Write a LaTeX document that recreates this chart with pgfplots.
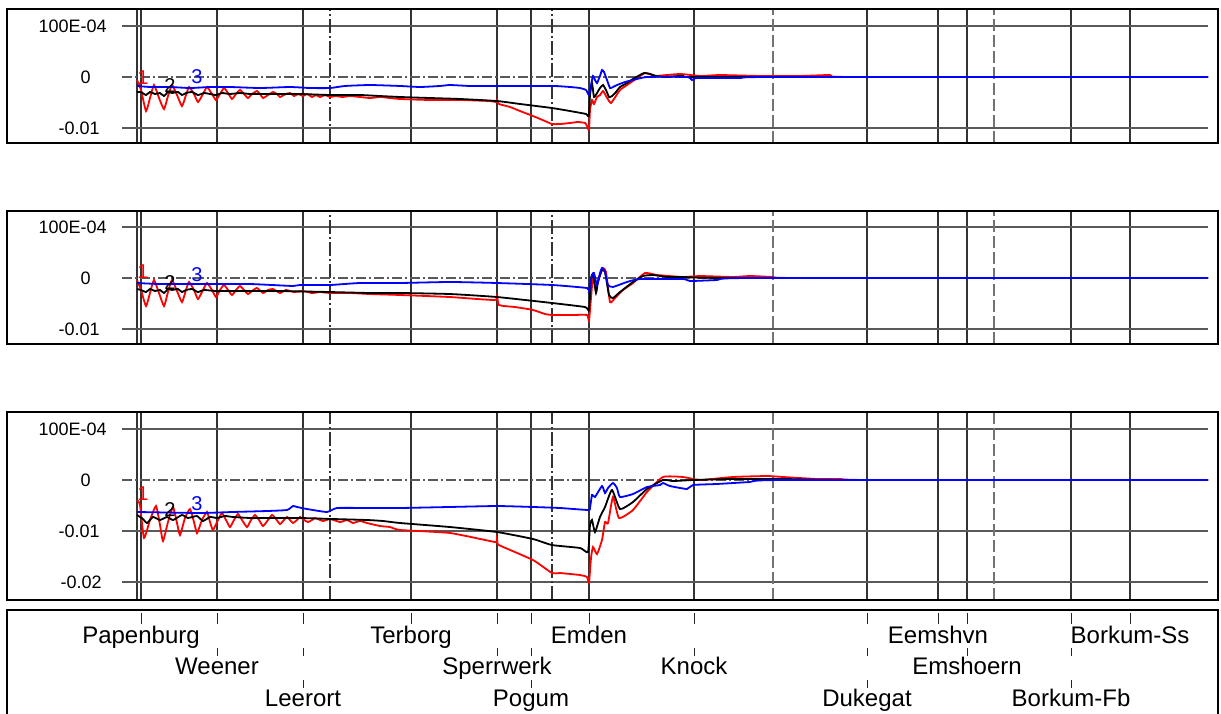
\documentclass[border=0pt]{standalone}
\usepackage{fontspec}
\setmainfont{Liberation Sans}
\usepackage{pgfplots}
\pgfplotsset{compat=1.18}
\pgfplotsset{
  panel/.style={
    scale only axis, width=543pt,
    xmin=122, xmax=1208,
    axis line style={draw=none},
    tick style={draw=none},
    scaled y ticks=false,
    xtick={137,141,217,303,411,497,531,589,694,867,938,967,1071,1130},
    xticklabels={},
    extra x ticks={330,552},
    extra x tick labels={},
    extra x tick style={major grid style={black, line width=0.55pt, dash pattern=on 7pt off 1.5pt on 1pt off 1.5pt}},
    extra y ticks={0},
    extra y tick labels={0\kern8pt},
    extra y tick style={major grid style={black!65, line width=0.55pt, dash pattern=on 5pt off 1.5pt on 1pt off 1.5pt}},
    xmajorgrids, ymajorgrids,
    x grid style={black!80, line width=0.55pt},
    y grid style={black!65, line width=0.55pt},
    yticklabel style={anchor=east, inner sep=0pt, xshift=-7.5pt, font=\fontsize{9}{10}\selectfont},
    every axis plot/.append style={line width=0.9pt, smooth, tension=0.3},
  },
}
\tikzset{numlab/.style={inner sep=0pt, font=\fontsize{10}{11}\selectfont}}
\newcommand{\dashedv}{%
  \draw[black!55, line width=0.6pt, dash pattern=on 6pt off 2pt] ({axis cs:773,0}|-{rel axis cs:0,0}) -- ({axis cs:773,0}|-{rel axis cs:0,1});
  \draw[black!55, line width=0.6pt, dash pattern=on 6pt off 2pt] ({axis cs:994,0}|-{rel axis cs:0,0}) -- ({axis cs:994,0}|-{rel axis cs:0,1});
}
\begin{document}
\begin{tikzpicture}
\path[use as bounding box] (0,0) rectangle (610.5pt,-356.5pt);

% ---------- top panel ----------
\begin{axis}[panel, at={(61pt,-71.5pt)}, anchor=south west, height=67pt,
  ymin=-0.0129412, ymax=0.0133333,
  ytick={-0.01,0.01}, yticklabels={{-0.01\kern3.5pt},{\raisebox{-1.3pt}{100E-04}}}]
\dashedv
\addplot[red] coordinates {
(137,-0.59e-3) (141,-2.55e-3) (146,-6.67e-3) (150,-4.12e-3) (154,-1.57e-3) (159,-4.12e-3)
(164,-6.27e-3) (168,-3.73e-3) (172,-1.57e-3) (177,-3.53e-3) (182,-5.69e-3) (186,-3.53e-3)
(189,-1.96e-3) (194,-3.33e-3) (198,-4.90e-3) (203,-3.33e-3) (207,-1.96e-3) (212,-3.33e-3)
(216,-4.51e-3) (220,-3.33e-3) (224,-2.16e-3) (228,-3.14e-3) (232,-4.31e-3) (236,-3.33e-3)
(240,-2.55e-3) (244,-3.33e-3) (248,-4.12e-3) (252,-3.33e-3) (257,-2.75e-3) (260,-3.33e-3)
(263,-4.12e-3) (268,-3.53e-3) (273,-2.94e-3) (277,-3.33e-3) (280,-3.92e-3) (286,-3.33e-3)
(290,-3.14e-3) (294,-3.73e-3) (298,-3.33e-3) (303,-3.73e-3) (307,-3.33e-3) (312,-3.92e-3)
(316,-3.53e-3) (320,-3.92e-3) (325,-3.53e-3) (330,-3.92e-3) (336,-3.73e-3) (342,-3.92e-3)
(350,-3.73e-3) (360,-3.92e-3) (370,-4.12e-3) (380,-3.92e-3) (390,-4.12e-3) (400,-4.31e-3)
(430,-4.51e-3) (460,-4.51e-3) (490,-4.71e-3) (496,-4.90e-3) (497,-4.51e-3) (499,-5.29e-3)
(510,-5.88e-3) (520,-6.67e-3) (533,-7.65e-3) (545,-8.63e-3) (552,-9.22e-3) (560,-9.22e-3)
(570,-9.02e-3) (578,-8.82e-3) (585,-9.02e-3) (587,-9.61e-3) (589,-10.39e-3) (590,-6.47e-3)
(592,-4.51e-3) (594,-5.29e-3) (597,-3.92e-3) (600,-3.53e-3) (603,-2.75e-3) (606,-3.73e-3)
(609,-4.71e-3) (611,-5.10e-3) (614,-4.31e-3) (620,-2.55e-3) (627,-1.57e-3) (633,-0.78e-3)
(640,0.20e-3) (645,0.78e-3) (650,0.59e-3) (655,0.20e-3) (680,0.59e-3) (700,0.20e-3)
(720,0.39e-3) (760,0.20e-3) (800,0.20e-3) (830,0.39e-3) (850,0) (1208,0)
};
\addplot[black] coordinates {
(137,-2.94e-3) (141,-2.94e-3) (146,-3.53e-3) (150,-2.94e-3) (155,-3.33e-3) (160,-3.14e-3)
(164,-3.73e-3) (168,-2.94e-3) (172,-3.14e-3) (178,-2.94e-3) (182,-3.53e-3) (186,-3.14e-3)
(192,-2.94e-3) (198,-3.53e-3) (204,-3.14e-3) (210,-3.33e-3) (216,-3.53e-3) (222,-3.14e-3)
(230,-3.33e-3) (240,-3.14e-3) (250,-3.33e-3) (260,-3.33e-3) (280,-3.33e-3) (300,-3.33e-3)
(330,-3.53e-3) (360,-3.53e-3) (380,-3.73e-3) (400,-3.92e-3) (430,-4.12e-3) (460,-4.31e-3)
(497,-4.71e-3) (520,-5.29e-3) (552,-6.08e-3) (570,-6.67e-3) (586,-7.25e-3) (588,-7.65e-3)
(589,-7.45e-3) (590,-3.53e-3) (592,-1.18e-3) (594,-3.92e-3) (597,-3.14e-3) (600,-2.16e-3)
(603,-1.57e-3) (606,-2.55e-3) (609,-3.92e-3) (612,-3.73e-3) (616,-2.94e-3) (620,-1.96e-3)
(627,-1.18e-3) (633,-0.39e-3) (640,0.39e-3) (644,0.78e-3) (650,0.59e-3) (656,0.20e-3)
(665,0) (680,0.20e-3) (700,0) (1208,0)
};
\addplot[blue] coordinates {
(137,-1.76e-3) (150,-1.96e-3) (170,-1.96e-3) (190,-2.16e-3) (210,-1.96e-3) (230,-1.96e-3)
(260,-2.16e-3) (290,-1.96e-3) (310,-2.16e-3) (330,-2.16e-3) (345,-1.76e-3) (370,-1.57e-3)
(400,-1.76e-3) (420,-1.96e-3) (440,-1.76e-3) (450,-1.57e-3) (470,-1.76e-3) (500,-1.76e-3)
(520,-1.76e-3) (540,-1.76e-3) (555,-1.76e-3) (570,-1.96e-3) (580,-2.16e-3) (586,-2.55e-3)
(589,-3.53e-3) (591,-1.57e-3) (593,0.20e-3) (595,-0.59e-3) (597,-1.18e-3) (600,0.20e-3)
(602,1.37e-3) (604,0.98e-3) (607,-0.59e-3) (610,-2.16e-3) (613,-1.96e-3) (617,-1.57e-3)
(625,-0.98e-3) (633,-0.59e-3) (647,0) (687,0) (692,-0.59e-3) (697,-0.20e-3) (740,-0.20e-3)
(770,0) (1208,0)
};
\node[numlab, text=red] at (axis cs:143,-0.1e-3) {1};
\node[numlab, text=black] at (axis cs:170,-1.76e-3) {2};
\node[numlab, text=blue] at (axis cs:197,0) {3};
\end{axis}

% ---------- middle panel ----------
\begin{axis}[panel, at={(61pt,-172pt)}, anchor=south west, height=66.5pt,
  ymin=-0.0129412, ymax=0.0131373,
  ytick={-0.01,0.01}, yticklabels={{-0.01\kern3.5pt},{\raisebox{-1.3pt}{100E-04}}}]
\dashedv
\addplot[red] coordinates {
(137,-0.39e-3) (141,-2.35e-3) (146,-5.49e-3) (150,-2.94e-3) (154,-0.39e-3) (159,-2.94e-3)
(164,-5.49e-3) (168,-2.75e-3) (172,-0.39e-3) (177,-2.55e-3) (182,-4.71e-3) (186,-2.35e-3)
(189,-0.78e-3) (194,-2.35e-3) (198,-4.12e-3) (203,-2.35e-3) (207,-0.98e-3) (212,-2.35e-3)
(216,-3.73e-3) (220,-2.35e-3) (224,-1.37e-3) (228,-2.35e-3) (232,-3.33e-3) (236,-2.35e-3)
(240,-1.57e-3) (244,-2.35e-3) (248,-3.14e-3) (252,-2.55e-3) (257,-1.96e-3) (263,-2.94e-3)
(268,-2.35e-3) (273,-2.16e-3) (280,-2.94e-3) (286,-2.35e-3) (294,-2.75e-3) (303,-2.55e-3)
(312,-2.94e-3) (320,-2.75e-3) (330,-2.94e-3) (350,-2.94e-3) (370,-3.14e-3) (400,-3.33e-3)
(450,-3.73e-3) (495,-4.31e-3) (497,-3.14e-3) (499,-5.29e-3) (515,-5.69e-3) (533,-6.27e-3)
(545,-7.06e-3) (552,-7.25e-3) (573,-7.25e-3) (587,-7.25e-3) (589,-8.43e-3) (591,-3.92e-3)
(593,0.20e-3) (596,-1.96e-3) (599,0.20e-3) (603,1.96e-3) (606,1.18e-3) (610,-4.71e-3)
(615,-3.92e-3) (623,-2.35e-3) (633,-0.98e-3) (645,0.98e-3) (657,0.59e-3) (683,0.20e-3)
(700,0.39e-3) (733,0.20e-3) (750,0.39e-3) (773,0.20e-3) (800,0) (1208,0)
};
\addplot[black] coordinates {
(137,-2.16e-3) (141,-2.35e-3) (146,-2.75e-3) (150,-2.16e-3) (155,-2.55e-3) (160,-2.35e-3)
(164,-2.94e-3) (168,-2.16e-3) (172,-2.35e-3) (178,-2.16e-3) (182,-2.75e-3) (186,-2.35e-3)
(192,-2.16e-3) (198,-2.75e-3) (204,-2.35e-3) (216,-2.55e-3) (240,-2.55e-3) (280,-2.55e-3)
(330,-2.75e-3) (370,-2.94e-3) (400,-2.94e-3) (450,-3.14e-3) (497,-3.73e-3) (552,-4.90e-3)
(585,-5.69e-3) (589,-6.27e-3) (591,0) (593,0.59e-3) (596,-2.94e-3) (598,-0.78e-3)
(602,1.57e-3) (605,1.18e-3) (609,-3.33e-3) (613,-3.92e-3) (620,-2.75e-3) (633,-0.78e-3)
(643,0.39e-3) (653,0.59e-3) (667,0.20e-3) (683,0.20e-3) (733,0) (1208,0)
};
\addplot[blue] coordinates {
(137,-0.98e-3) (160,-1.18e-3) (200,-1.18e-3) (250,-1.18e-3) (293,-1.57e-3) (300,-1.37e-3)
(330,-1.37e-3) (360,-0.98e-3) (400,-0.98e-3) (450,-0.78e-3) (497,-0.98e-3) (552,-1.37e-3)
(587,-1.96e-3) (589,-2.55e-3) (592,0.59e-3) (594,0.98e-3) (597,-1.37e-3) (600,0.98e-3)
(602,1.96e-3) (605,1.18e-3) (608,-1.37e-3) (613,-1.76e-3) (627,-0.78e-3) (640,-0.20e-3)
(683,-0.20e-3) (690,-0.59e-3) (717,-0.39e-3) (750,0) (1208,0)
};
\node[numlab, text=red] at (axis cs:143,1.18e-3) {1};
\node[numlab, text=black] at (axis cs:170,-0.98e-3) {2};
\node[numlab, text=blue] at (axis cs:197,0.59e-3) {3};
\end{axis}

% ---------- bottom panel ----------
\begin{axis}[panel, at={(61pt,-300pt)}, anchor=south west, height=94pt,
  ymin=-0.0235294, ymax=0.0133333,
  ytick={-0.02,-0.01,0.01}, yticklabels={{-0.02\kern2.5pt},{-0.01\kern3.5pt},{\raisebox{-1.3pt}{100E-04}}}]
\dashedv
\addplot[red] coordinates {
(137,-3.92e-3) (140,-4.90e-3) (144,-11.37e-3) (150,-7.84e-3) (156,-5.10e-3) (160,-8.82e-3)
(163,-11.96e-3) (168,-8.24e-3) (173,-5.29e-3) (177,-8.43e-3) (180,-10.78e-3) (185,-7.45e-3)
(190,-5.69e-3) (194,-8.24e-3) (197,-10.39e-3) (202,-7.84e-3) (207,-6.27e-3) (210,-8.24e-3)
(213,-9.80e-3) (218,-7.84e-3) (222,-6.47e-3) (226,-7.84e-3) (230,-9.22e-3) (234,-7.84e-3)
(238,-6.67e-3) (242,-7.84e-3) (247,-9.22e-3) (251,-7.84e-3) (255,-6.86e-3) (259,-7.84e-3)
(263,-9.02e-3) (268,-7.84e-3) (272,-6.86e-3) (276,-7.65e-3) (280,-8.63e-3) (284,-7.84e-3)
(287,-7.25e-3) (290,-7.84e-3) (293,-8.43e-3) (297,-7.84e-3) (300,-7.25e-3) (304,-7.84e-3)
(308,-8.24e-3) (312,-7.84e-3) (315,-7.45e-3) (323,-8.04e-3) (330,-7.65e-3) (340,-8.24e-3)
(347,-7.84e-3) (353,-8.43e-3) (360,-8.04e-3) (367,-8.43e-3) (380,-9.02e-3) (390,-9.22e-3)
(400,-9.80e-3) (450,-10.39e-3) (495,-12.16e-3) (497,-11.76e-3) (499,-12.75e-3) (533,-15.69e-3)
(552,-18.24e-3) (560,-18.24e-3) (580,-18.63e-3) (587,-19.02e-3) (589,-20.20e-3) (591,-15.29e-3)
(593,-13.14e-3) (597,-14.51e-3) (602,-11.76e-3) (605,-8.24e-3) (608,-8.43e-3) (613,-3.33e-3)
(619,-7.45e-3) (633,-5.88e-3) (647,-2.35e-3) (663,0.59e-3) (683,0.59e-3) (700,0)
(733,0.59e-3) (767,0.78e-3) (783,0.59e-3) (817,0.20e-3) (840,0.20e-3) (870,0) (1208,0)
};
\addplot[black] coordinates {
(137,-6.86e-3) (143,-7.65e-3) (147,-8.43e-3) (153,-7.25e-3) (160,-7.84e-3) (167,-7.25e-3)
(173,-7.84e-3) (182,-6.86e-3) (188,-7.45e-3) (197,-7.06e-3) (203,-8.04e-3) (210,-7.25e-3)
(217,-7.45e-3) (225,-7.06e-3) (233,-7.25e-3) (250,-7.45e-3) (267,-7.45e-3) (300,-7.45e-3)
(333,-7.65e-3) (367,-7.84e-3) (383,-8.04e-3) (400,-8.43e-3) (450,-9.22e-3) (497,-10.20e-3)
(533,-11.57e-3) (552,-12.75e-3) (580,-13.33e-3) (588,-14.12e-3) (590,-8.82e-3) (592,-7.84e-3)
(595,-10.20e-3) (600,-7.25e-3) (605,-5.29e-3) (612,-1.96e-3) (620,-5.69e-3) (633,-4.31e-3)
(647,-1.76e-3) (663,0) (673,-0.20e-3) (693,0) (733,0.20e-3) (783,0.20e-3) (850,0) (1208,0)
};
\addplot[blue] coordinates {
(137,-6.27e-3) (200,-6.47e-3) (233,-6.27e-3) (267,-6.08e-3) (287,-5.88e-3) (293,-5.10e-3)
(297,-5.29e-3) (307,-5.69e-3) (327,-6.27e-3) (337,-5.49e-3) (367,-5.49e-3) (400,-5.49e-3)
(450,-5.29e-3) (497,-5.10e-3) (533,-5.29e-3) (560,-5.49e-3) (588,-5.88e-3) (590,-5.49e-3)
(592,-2.94e-3) (595,-3.33e-3) (602,-1.18e-3) (605,-2.55e-3) (608,-1.57e-3) (613,-0.59e-3)
(617,-1.57e-3) (620,-3.33e-3) (633,-2.75e-3) (647,-1.37e-3) (660,-0.98e-3) (663,-0.59e-3)
(670,-1.18e-3) (687,-1.76e-3) (693,-0.98e-3) (717,-0.78e-3) (750,-0.39e-3) (783,0) (1208,0)
};
\node[numlab, text=red] at (axis cs:143,-2.75e-3) {1};
\node[numlab, text=black] at (axis cs:170,-5.69e-3) {2};
\node[numlab, text=blue] at (axis cs:197,-4.71e-3) {3};
\end{axis}

% ---------- frames and station labels ----------
\begin{scope}[x=0.5pt,y=-0.5pt]
\draw[line width=1pt] (7,9) rectangle (1218,143);
\draw[line width=1pt] (7,211) rectangle (1218,344);
\draw[line width=1pt] (7,412) rectangle (1218,600);
\draw[line width=1pt] (7,714) -- (7,610) -- (1218,610) -- (1218,714);
\foreach \x in {141,217,303,411,497,531,589,694,867,938,967,1071,1130}
  \draw[black!85, line width=0.5pt] (\x,613) -- (\x,624);
\foreach \x in {217,303,497,531,694,867,967,1071}
  \draw[black!85, line width=0.5pt] (\x,648) -- (\x,656);
\foreach \x in {303,531,867,1071}
  \draw[black!85, line width=0.5pt] (\x,680) -- (\x,688);
\begin{scope}[every node/.style={anchor=base, inner sep=0pt, font=\fontsize{12}{14}\selectfont}]
\node at (141,643) {Papenburg};
\node at (411,643) {Terborg};
\node at (589,643) {Emden};
\node at (938,643) {Eemshvn};
\node at (1130,643) {Borkum-Ss};
\node at (217,674) {Weener};
\node at (497,674) {Sperrwerk};
\node at (694,674) {Knock};
\node at (967,674) {Emshoern};
\node at (303,706) {Leerort};
\node at (531,706) {Pogum};
\node at (867,706) {Dukegat};
\node at (1071,706) {Borkum-Fb};
\end{scope}
\end{scope}
\end{tikzpicture}
\end{document}
